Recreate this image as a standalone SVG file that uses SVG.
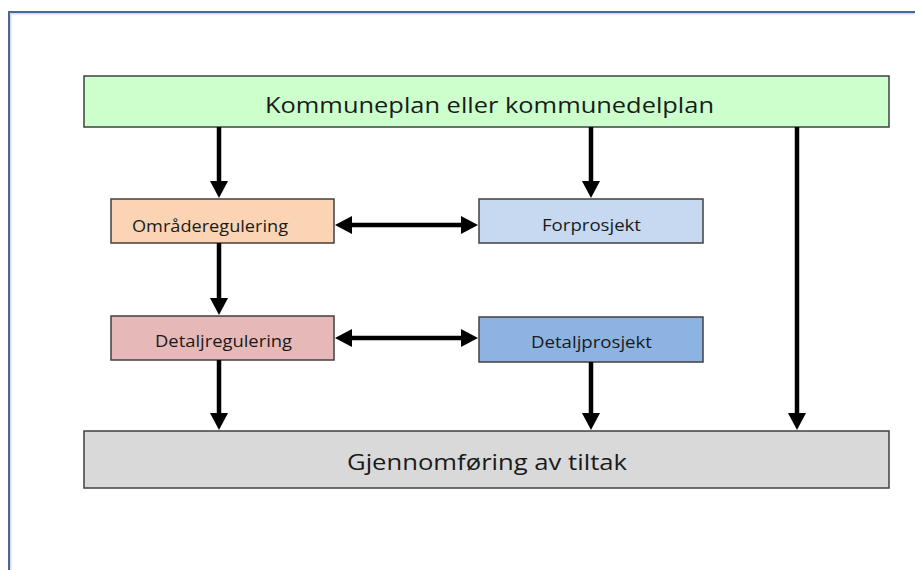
<svg xmlns="http://www.w3.org/2000/svg" width="915" height="570" viewBox="0 0 915 570">
<defs>
<marker id="ah" markerUnits="userSpaceOnUse" markerWidth="18" markerHeight="18" viewBox="0 0 17 18" refX="9" refY="9" orient="auto-start-reverse">
<path d="M0,0 L17,9 L0,18 z" fill="#000"/>
</marker>
</defs>
<style>
.box{stroke:#404040;stroke-width:1.5}
.t{font-family:"Open Sans","Liberation Sans",sans-serif;fill:#1a1a1a}
.c{stroke:#000;stroke-width:4.5;fill:none}
</style>
<rect width="915" height="570" fill="#fff"/>
<g id="frame">
<path d="M10.5,570 V13.5 H915" fill="none" stroke="#d5dbe6" stroke-width="2"/>
<path d="M9,570 V12 H915" fill="none" stroke="#4a6796" stroke-width="2"/>
</g>
<g id="kommuneplan">
<rect class="box" x="84" y="76" width="805" height="51" fill="#ccffcc"/>
<text class="t" x="265" y="113" font-size="21" textLength="449" lengthAdjust="spacingAndGlyphs">Kommuneplan eller kommunedelplan</text>
</g>
<g id="omraderegulering">
<rect class="box" x="111" y="199" width="223" height="44" fill="#fbd4b4"/>
<text class="t" x="132" y="232" font-size="16" textLength="156" lengthAdjust="spacingAndGlyphs">Områderegulering</text>
</g>
<g id="forprosjekt">
<rect class="box" x="479" y="199" width="224" height="44" fill="#c6d9f1"/>
<text class="t" x="542" y="231" font-size="16" textLength="99" lengthAdjust="spacingAndGlyphs">Forprosjekt</text>
</g>
<g id="detaljregulering">
<rect class="box" x="111" y="316" width="223" height="44" fill="#e6b9b8"/>
<text class="t" x="155" y="347" font-size="16" textLength="137" lengthAdjust="spacingAndGlyphs">Detaljregulering</text>
</g>
<g id="detaljprosjekt">
<rect class="box" x="479" y="317" width="224" height="45" fill="#8db3e2"/>
<text class="t" x="531" y="348" font-size="16" textLength="121" lengthAdjust="spacingAndGlyphs">Detaljprosjekt</text>
</g>
<g id="gjennomforing">
<rect class="box" x="84" y="431" width="805" height="57" fill="#d9d9d9"/>
<text class="t" x="347" y="470" font-size="22" textLength="280" lengthAdjust="spacingAndGlyphs">Gjennomføring av tiltak</text>
</g>
<g id="connectors">
<line class="c" x1="219" y1="127" x2="219" y2="190" marker-end="url(#ah)"/>
<line class="c" x1="591" y1="127" x2="591" y2="190" marker-end="url(#ah)"/>
<line class="c" x1="797" y1="127" x2="797" y2="422" marker-end="url(#ah)"/>
<line class="c" x1="219" y1="243" x2="219" y2="307" marker-end="url(#ah)"/>
<line class="c" x1="219" y1="360" x2="219" y2="422" marker-end="url(#ah)"/>
<line class="c" x1="591" y1="362" x2="591" y2="422" marker-end="url(#ah)"/>
<line class="c" x1="343" y1="225" x2="470" y2="225" marker-start="url(#ah)" marker-end="url(#ah)"/>
<line class="c" x1="343" y1="338" x2="470" y2="338" marker-start="url(#ah)" marker-end="url(#ah)"/>
</g>
</svg>
